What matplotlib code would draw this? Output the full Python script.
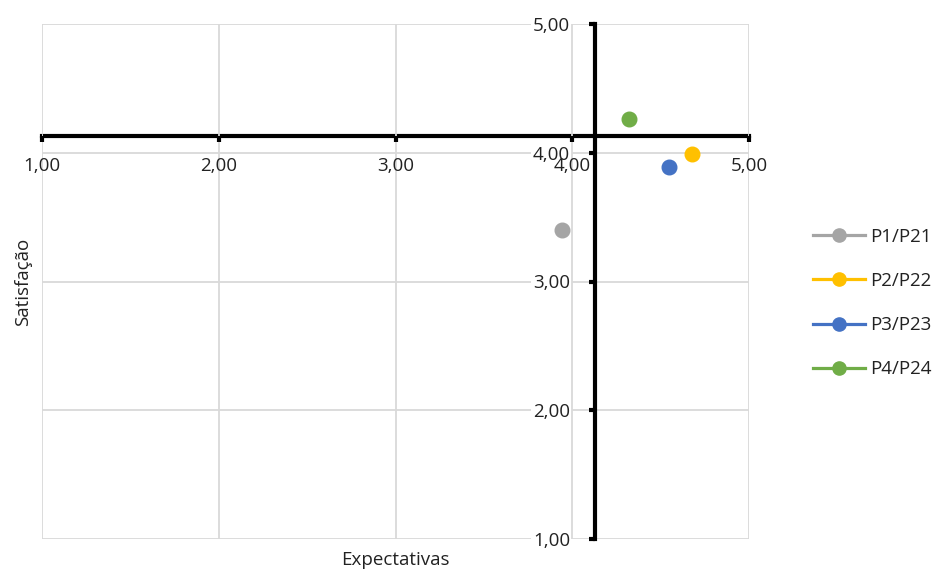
import matplotlib.pyplot as plt
from matplotlib.lines import Line2D
from matplotlib.ticker import FuncFormatter

# expectation (x) vs satisfaction (y) per question pair
series = ['P1/P21', 'P2/P22', 'P3/P23', 'P4/P24']
expectativas = [3.94, 4.68, 4.55, 4.32]
satisfacao = [3.40, 3.99, 3.89, 4.26]
colors = ['#A5A5A5', '#FFC000', '#4472C4', '#70AD47']

# axes cross at the overall means
cross_x = 4.13
cross_y = 4.13

plt.rcParams['font.family'] = ['Open Sans', 'DejaVu Sans']
text_color = '#222222'

fig = plt.figure(figsize=(9.4, 5.71), dpi=100)
ax = fig.add_axes([42 / 940, 1 - 539 / 571, 707 / 940, 515 / 571])

for name, x, y, c in zip(series, expectativas, satisfacao, colors):
    ax.plot([x], [y], 'o', color=c, markersize=10.5, label=name, zorder=4)

ax.set_xlim(1, 5)
ax.set_ylim(1, 5)
ax.set_xticks([1, 2, 3, 4, 5])
ax.set_yticks([1, 2, 3, 4, 5])
fmt = FuncFormatter(lambda v, pos: f'{v:.2f}'.replace('.', ','))
ax.xaxis.set_major_formatter(fmt)
ax.yaxis.set_major_formatter(fmt)

ax.grid(True, color='#d9d9d9', linewidth=1.3, zorder=0)
ax.set_axisbelow(True)

for side in ['top', 'right']:
    ax.spines[side].set_visible(False)
ax.spines['left'].set_position(('data', cross_x))
ax.spines['bottom'].set_position(('data', cross_y))
for side in ['left', 'bottom']:
    ax.spines[side].set_linewidth(3)
    ax.spines[side].set_color('black')
    ax.spines[side].set_capstyle('projecting')

ax.tick_params(axis='both', direction='out', length=4, width=3, color='black',
               labelsize=13.5, labelcolor=text_color)
ax.tick_params(axis='x', pad=11)
ax.tick_params(axis='y', pad=14)
# y labels sit on a white box that cuts the grid and the x axis line
for lab in ax.get_yticklabels():
    lab.set_bbox(dict(facecolor='white', edgecolor='none', pad=1.5))
# x labels drawn after the y labels so both "4,00" stay visible
ax.xaxis.set_zorder(2.6)

ax.text(0.5, -0.041, 'Expectativas', transform=ax.transAxes, ha='center',
        va='center', fontsize=13.5, color=text_color)
ax.text(-0.027, 0.5, 'Satisfação', transform=ax.transAxes, ha='center',
        va='center', rotation=90, fontsize=13.5, color=text_color)

handles = [Line2D([0], [0], color=c, linewidth=2.3, marker='o', markersize=9.5)
           for c in colors]
fig.legend(handles, series, loc='center left', bbox_to_anchor=(796 / 940, 1 - 303 / 571),
           frameon=False, fontsize=13.5, handlelength=2.8, handletextpad=0.25,
           labelspacing=1.4, labelcolor=text_color)

fig.savefig('out.png', dpi=100, facecolor='white')
